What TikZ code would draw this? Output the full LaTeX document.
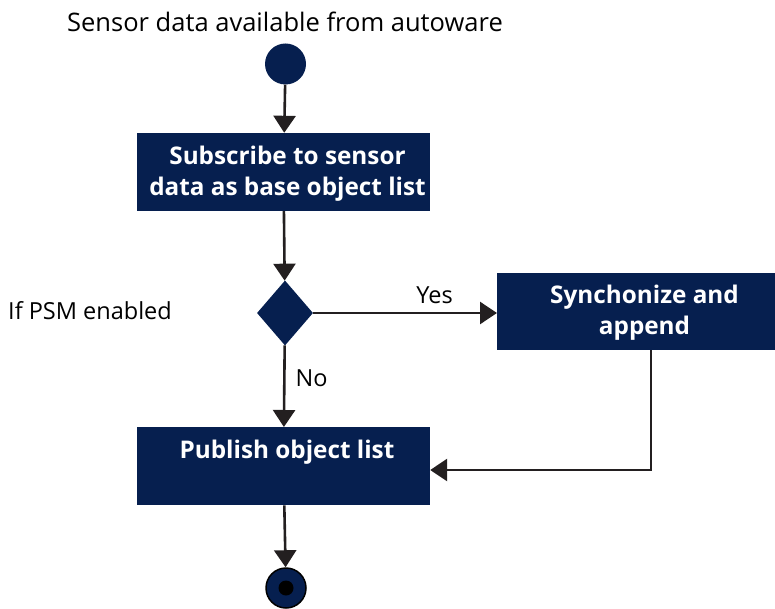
\documentclass[tikz,border=0pt]{standalone}
\usepackage{fontspec}
\setmainfont{Open Sans}
\usetikzlibrary{arrows.meta,shapes.geometric}
\definecolor{navy}{HTML}{061F4F}
\definecolor{ink}{HTML}{231F20}
\tikzset{
  flow/.style={draw=ink,line width=2.6pt,-{Triangle[width=22pt,length=17pt]}},
  actbox/.style={fill=navy,draw=none,inner sep=0pt},
  acttext/.style={text=white,font=\fontsize{24.3}{31}\selectfont\bfseries,align=center,inner sep=0pt},
  lbl/.style={font=\fontsize{23.5}{28}\selectfont,text=black,inner sep=0pt},
}
\begin{document}
\begin{tikzpicture}[x=1pt,y=-1pt]
\useasboundingbox (0,0) rectangle (775,609);
% start node
\node[lbl,font=\fontsize{25.5}{30}\selectfont] (title) at (285,22) {Sensor data available from autoware};
\node[circle,fill=navy,minimum size=41pt,inner sep=0pt] (start) at (285.5,64) {};
% action boxes
\node[actbox,minimum width=293pt,minimum height=78pt] (sub) at (283.5,172) {};
\node[acttext] (subtxt) at (287.5,174) {Subscribe to sensor\\data as base object list};
\node[actbox,minimum width=295pt,minimum height=77pt,anchor=north west] (sync) at (497,273) {};
\node[acttext] (synctxt) at (644.5,312.5) {Synchonize and\\append};
\node[actbox,minimum width=293pt,minimum height=78pt,anchor=north] (pub) at (283.5,427) {};
\node[acttext] (pubtxt) at (287,452) {Publish object list};
% decision
\node[diamond,fill=navy,inner sep=0pt,minimum width=56pt,minimum height=65pt] (dec) at (285,313) {};
\node[lbl,anchor=west] (psm) at (8,311) {If PSM enabled};
% end node
\node[circle,fill=navy,draw=black,line width=1.5pt,minimum size=40pt,inner sep=0pt] (stop) at (286,588) {};
\node[circle,fill=black,minimum size=15pt,inner sep=0pt] (stopdot) at (stop.center) {};
% connectors
\draw[flow] (start) -- (sub);
\draw[flow] (sub) -- (dec);
\draw[flow] (dec) -- node[lbl,above=8pt,pos=0.66] (yes) {Yes} (sync.west |- dec);
\draw[flow] (dec) -- node[lbl,right=10pt,pos=0.4] (no) {No} (pub);
\coordinate (bend) at (651,470);
\draw[flow] (bend |- sync.south) -- (bend) -- (bend -| pub.east);
\draw[flow] (pub) -- (stop);
\end{tikzpicture}
\end{document}
